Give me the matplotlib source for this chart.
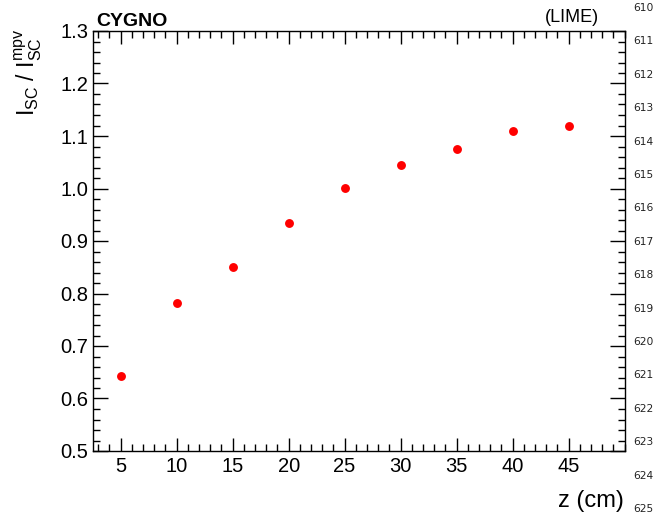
import matplotlib
matplotlib.use("Agg")
import matplotlib.pyplot as plt
from matplotlib.ticker import MultipleLocator

# data
z_cm = [5, 10, 15, 20, 25, 30, 35, 40, 45]
ratio = [0.643, 0.781, 0.850, 0.934, 1.001, 1.044, 1.075, 1.109, 1.120]

line_numbers = list(range(610, 626))

plt.rcParams["font.family"] = ["Liberation Sans", "DejaVu Sans"]
plt.rcParams["mathtext.fontset"] = "custom"
plt.rcParams["mathtext.rm"] = "Liberation Sans"
plt.rcParams["mathtext.it"] = "Liberation Sans"

fig = plt.figure(figsize=(6.57, 5.16), dpi=100)

# page line numbers running down the right margin
ax_ln = fig.add_axes([0, 0, 1, 1])
ax_ln.axis("off")
ax_ln.set_xlim(0, 1)
ax_ln.set_ylim(625.21, 609.76)
for n in line_numbers:
    ax_ln.text(633 / 657, n, str(n), ha="left", va="center",
               fontsize=7.7, color="#222222", family="DejaVu Sans")

ax = fig.add_axes([92.7 / 657, 1 - 451 / 516, (624.5 - 92.7) / 657, (451 - 31) / 516])
ax.plot(z_cm, ratio, "o", color="red", markersize=6.4, markeredgewidth=0)

ax.set_xlim(2.5, 50)
ax.set_ylim(0.5, 1.3)
ax.xaxis.set_major_locator(MultipleLocator(5))
ax.xaxis.set_minor_locator(MultipleLocator(1))
ax.yaxis.set_major_locator(MultipleLocator(0.1))
ax.yaxis.set_minor_locator(MultipleLocator(0.02))
ax.yaxis.set_major_formatter(plt.FormatStrFormatter("%.1f"))

ax.tick_params(which="both", direction="in", top=True, right=True, width=1, color="black")
ax.tick_params(axis="x", which="major", length=9.6, labelsize=14.5, pad=4)
ax.tick_params(axis="x", which="minor", length=4.8)
ax.tick_params(axis="y", which="major", length=10.6, labelsize=14.5, pad=3)
ax.tick_params(axis="y", which="minor", length=5.2)
for sp in ax.spines.values():
    sp.set_linewidth(1.0)

ax.set_xticks([5, 10, 15, 20, 25, 30, 35, 40, 45])

fig.text(624 / 657, 1 - 501 / 516, "z (cm)", ha="right", va="center", fontsize=17)
fig.text(28 / 657, 1 - 29 / 516, r"$\mathregular{I_{SC}\ /\ I_{SC}^{mpv}}$",
         rotation=90, ha="center", va="top", fontsize=16.5)

ax.text(96 / 657, 1 - 26 / 516, "CYGNO", transform=fig.transFigure, ha="left",
        va="baseline", fontsize=14, fontweight="bold")
ax.text(599 / 657, 1 - 17.5 / 516, "(LIME)", transform=fig.transFigure,
        ha="right", va="center", fontsize=13)

fig.savefig("out.png", dpi=100)
